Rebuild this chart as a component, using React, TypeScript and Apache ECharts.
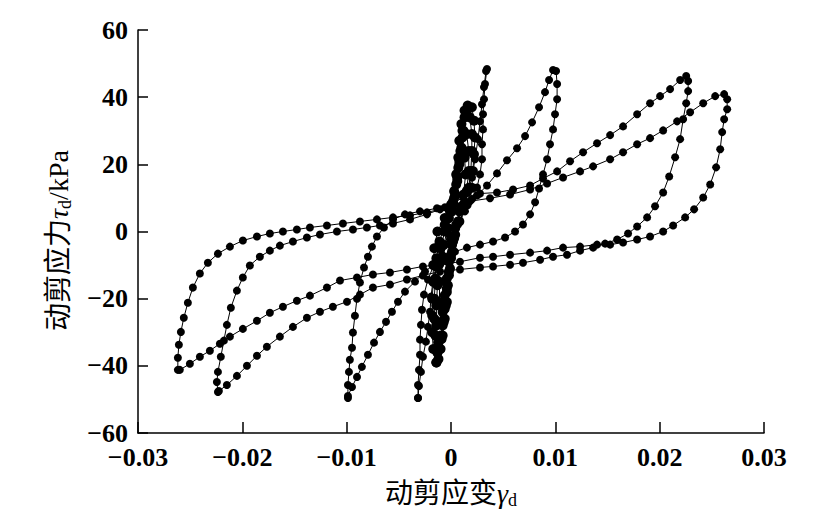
import React, { useEffect, useRef } from "react";
import * as echarts from "echarts";

// Shear strain (γd) vs shear stress (τd, kPa), loop by loop
const loop5: number[][] = [
  [-0.02618, -41.2], [-0.02618, -37.6], [-0.02608, -33.7], [-0.02589, -29.9], [-0.02561, -25.7],
  [-0.02522, -21.2], [-0.02474, -16.7], [-0.02407, -12.5], [-0.0233, -9.3], [-0.02234, -6.6],
  [-0.02119, -4.5], [-0.01995, -2.7], [-0.0186, -1.5], [-0.01736, -0.6], [-0.01611, 0],
  [-0.01477, 0.6], [-0.01352, 1.2], [-0.01189, 1.8], [-0.01036, 2.4], [-0.00873, 3.0],
  [-0.0071, 3.6], [-0.00556, 4.2], [-0.00393, 4.8], [-0.0023, 5.7], [-0.00105, 6.6],
  [0.00038, 8.1], [0.00182, 9.0], [0.00374, 9.9], [0.00566, 11.0], [0.00758, 12.5],
  [0.00921, 14.3], [0.01074, 16.1], [0.01237, 17.9], [0.01362, 19.4], [0.01525, 21.5],
  [0.01649, 23.6], [0.01784, 26.0], [0.01908, 27.8], [0.02033, 30.1], [0.02167, 32.8],
  [0.02292, 35.5], [0.02417, 38.2], [0.02532, 40.3], [0.02618, 40.9],
  [0.02647, 39.4], [0.02647, 36.4], [0.02618, 33.4], [0.02599, 29.6], [0.0258, 24.5],
  [0.02541, 19.1], [0.02484, 14.0], [0.02417, 10.1], [0.0233, 6.6], [0.02244, 4.2],
  [0.02129, 1.8], [0.02033, 0], [0.01908, -1.5], [0.01784, -2.4], [0.01649, -3.3],
  [0.01525, -3.9], [0.014, -3.9], [0.01237, -4.5], [0.01074, -4.8], [0.00921, -5.7],
  [0.00758, -6.3], [0.00566, -6.9], [0.00403, -7.5], [0.00278, -7.8], [0.00086, -9.0],
  [-0.00105, -9.9], [-0.00269, -10.4], [-0.00422, -11.3], [-0.00585, -12.2], [-0.00748, -12.8],
  [-0.00901, -13.7], [-0.01064, -14.6], [-0.01189, -16.7], [-0.01352, -19.1], [-0.01477, -20.6],
  [-0.01611, -22.4], [-0.01736, -24.2], [-0.0186, -26.6], [-0.01995, -29.0], [-0.02119, -31.3],
  [-0.02215, -33.4], [-0.02311, -35.5], [-0.02407, -37.3], [-0.02503, -39.4], [-0.02599, -41.2],
];

const loop4: number[][] = [
  [-0.02234, -47.8], [-0.02244, -44.8], [-0.02234, -41.8], [-0.02206, -37.3], [-0.02177, -32.5],
  [-0.02148, -27.8], [-0.0211, -22.7], [-0.02052, -17.6], [-0.01995, -13.7], [-0.01928, -10.1],
  [-0.01832, -7.5], [-0.01736, -5.7], [-0.0164, -4.2], [-0.01515, -3.0], [-0.01381, -1.8],
  [-0.01256, -0.9], [-0.01093, 0], [-0.0094, 0.6], [-0.00806, 1.2], [-0.00681, 1.8],
  [-0.00556, 2.4], [-0.00393, 3.6], [-0.0023, 5.1], [-0.00058, 7.2], [0.00115, 10.1],
  [0.00278, 11.3], [0.00441, 11.6], [0.00595, 12.5], [0.00758, 13.7], [0.00882, 15.8],
  [0.01017, 17.9], [0.01141, 20.9], [0.01266, 23.6], [0.014, 26.3], [0.01525, 28.7],
  [0.01649, 31.3], [0.01784, 34.9], [0.01908, 38.2], [0.02004, 40.3], [0.021, 42.4],
  [0.02196, 45.1], [0.02254, 46.3],
  [0.02273, 44.8], [0.02273, 41.8], [0.02254, 38.2], [0.02225, 33.4], [0.02196, 27.5],
  [0.02148, 22.1], [0.02091, 16.4], [0.02033, 11.6], [0.01956, 7.5], [0.0188, 4.2],
  [0.01784, 1.5], [0.01697, -0.6], [0.01592, -2.4], [0.01477, -3.6], [0.01362, -4.8],
  [0.01237, -5.7], [0.01112, -6.9], [0.00978, -7.5], [0.00854, -8.4], [0.0069, -9.3],
  [0.00566, -9.9], [0.00403, -10.4], [0.00278, -10.7], [0.00086, -11.3], [-0.00105, -11.9],
  [-0.00269, -13.1], [-0.00422, -14.3], [-0.00585, -15.8], [-0.00748, -16.7], [-0.00873, -18.8],
  [-0.00997, -20.9], [-0.01132, -22.4], [-0.01256, -23.9], [-0.01381, -25.7], [-0.01515, -28.4],
  [-0.0164, -31.3], [-0.01765, -34.3], [-0.0186, -37.0], [-0.01956, -40.0], [-0.02052, -43.0],
  [-0.02148, -45.7], [-0.02225, -47.5],
];

const loop3: number[][] = [
  [-0.00988, -49.6], [-0.00988, -45.7], [-0.00978, -41.8], [-0.00969, -38.2], [-0.00949, -34.6],
  [-0.0094, -30.1], [-0.00921, -25.1], [-0.00901, -20.0], [-0.00873, -15.2], [-0.00834, -10.7],
  [-0.00796, -7.5], [-0.00758, -4.5], [-0.0071, -1.5], [-0.00643, 1.2], [-0.00556, 3.6],
  [-0.00441, 5.1], [-0.00297, 6.0], [-0.00134, 6.9], [0.0001, 7.8], [0.00134, 9.0],
  [0.00249, 10.7], [0.00345, 13.7], [0.00441, 17.3], [0.00537, 21.2], [0.00633, 24.8],
  [0.0071, 28.4], [0.00777, 32.5], [0.00844, 37.0], [0.00901, 41.5], [0.0094, 45.1],
  [0.00978, 48.1],
  [0.01007, 47.8], [0.01017, 43.9], [0.01017, 39.4], [0.00997, 34.9], [0.00978, 30.4],
  [0.00949, 26.0], [0.00921, 21.5], [0.00882, 17.0], [0.00844, 12.8], [0.00806, 8.7],
  [0.00758, 5.1], [0.0069, 2.1], [0.00614, 0], [0.00518, -1.8], [0.00403, -3.0],
  [0.00278, -3.9], [0.00153, -4.8], [0.00038, -6.0], [-0.00058, -7.5], [-0.00153, -9.6],
  [-0.00249, -11.9], [-0.00345, -14.9], [-0.00441, -17.9], [-0.00508, -20.9], [-0.00566, -23.9],
  [-0.00623, -26.9], [-0.00681, -29.9], [-0.00738, -33.1], [-0.00796, -36.7], [-0.00854, -40.3],
  [-0.00901, -43.3], [-0.00949, -46.3], [-0.00988, -49.0],
];

const loop2: number[][] = [
  [-0.00316, -49.6], [-0.00316, -45.7], [-0.00307, -41.2], [-0.00297, -36.7], [-0.00297, -32.2],
  [-0.00288, -27.8], [-0.00278, -23.3], [-0.00259, -18.8], [-0.00221, -14.3], [-0.00163, -9.9],
  [-0.00096, -5.4], [-0.0002, -0.9], [0.00058, 3.0], [0.00115, 7.2], [0.00163, 11.6],
  [0.00201, 16.1], [0.0023, 21.5], [0.00259, 27.5], [0.00278, 32.8], [0.00297, 37.9],
  [0.00316, 43.0], [0.00336, 47.8],
  [0.00345, 48.4], [0.00326, 43.9], [0.00316, 39.4], [0.00307, 34.9], [0.00307, 30.4],
  [0.00297, 26.0], [0.00297, 21.5], [0.00278, 17.0], [0.00249, 13.1], [0.00201, 9.6],
  [0.00134, 6.0], [0.00067, 2.1], [-0.0001, -2.4], [-0.00086, -6.9], [-0.00144, -10.7],
  [-0.00173, -14.9], [-0.00192, -19.4], [-0.00201, -23.9], [-0.00221, -28.4], [-0.0024, -32.8],
  [-0.00269, -37.3], [-0.00288, -41.8], [-0.00307, -46.0], [-0.00316, -49.6],
];

// dense band of small cycles around the origin
const loop1Outer: number[][] = [
  [-0.0014, -39], [-0.0017, -35], [-0.0018, -30], [-0.0018, -25], [-0.0018, -20], [-0.0017, -15],
  [-0.0017, -10], [-0.0016, -5], [-0.0013, 0], [-0.0006, 4], [0.0, 8], [0.0003, 12], [0.0005, 17],
  [0.0007, 22], [0.0008, 27], [0.001, 32], [0.0013, 36], [0.0016, 37.5],
  [0.002, 37], [0.0022, 33], [0.0023, 28], [0.0022, 23], [0.0021, 18], [0.002, 13], [0.0015, 8],
  [0.0008, 3], [0.0004, -1], [0.0001, -6], [-0.0001, -11], [-0.0003, -16], [-0.0004, -21],
  [-0.0006, -26], [-0.0008, -31], [-0.001, -35], [-0.0012, -38], [-0.0014, -39],
];

const loop1Upper: number[][] = [
  [-0.0013, -36], [-0.0015, -31], [-0.0016, -26], [-0.0016, -20], [-0.0015, -14], [-0.0014, -8],
  [-0.0011, -3], [-0.0006, 2], [-0.0001, 6], [0.0003, 10], [0.0006, 15], [0.0008, 20], [0.001, 25],
  [0.0011, 30], [0.0013, 34], [0.0015, 35],
  [0.0018, 34], [0.002, 29], [0.002, 24], [0.0019, 18], [0.0017, 13], [0.0012, 8], [0.0007, 3],
  [0.0003, -2], [0.0, -7], [-0.0002, -12], [-0.0004, -17], [-0.0005, -22], [-0.0007, -27],
  [-0.0009, -32], [-0.0011, -35], [-0.0013, -36],
];

const loop1Middle: number[][] = [
  [-0.0012, -33], [-0.0014, -28], [-0.0014, -22], [-0.0013, -16], [-0.0012, -10], [-0.001, -5],
  [-0.0006, 0], [-0.0002, 4], [0.0002, 9], [0.0005, 14], [0.0007, 19], [0.0009, 24], [0.0011, 28],
  [0.0012, 30],
  [0.0015, 29], [0.0017, 24], [0.0017, 18], [0.0015, 12], [0.001, 7], [0.0005, 2], [0.0002, -3],
  [0.0, -8], [-0.0002, -13], [-0.0004, -18], [-0.0006, -23], [-0.0008, -28], [-0.001, -31],
  [-0.0012, -33],
];

const loop1Inner: number[][] = [
  [-0.001, -27], [-0.0011, -21], [-0.0011, -15], [-0.001, -9], [-0.0007, -4], [-0.0003, 1],
  [0.0001, 6], [0.0004, 11], [0.0006, 16], [0.0008, 21], [0.001, 24],
  [0.0013, 22], [0.0014, 17], [0.0012, 11], [0.0008, 6], [0.0004, 1], [0.0001, -4],
  [-0.0002, -9], [-0.0004, -14], [-0.0006, -19], [-0.0008, -24], [-0.001, -27],
];

const bandLoops = [loop1Inner, loop1Middle, loop1Upper, loop1Outer];
const mainLoops = [loop2, loop3, loop4, loop5];

const xName = "动剪应变{g|γ}{s|d}";
const yName = "动剪应力{g|τ}{s|d}/kPa";

const serif = "'Liberation Serif', 'Times New Roman', 'Noto Sans CJK SC', serif";

export default function App() {
  const ref = useRef<HTMLDivElement>(null);
  useEffect(() => {
    document.body.style.margin = "0";
    const chart = echarts.init(ref.current!, null, { renderer: "svg" });
    const tickLabel = {
      color: "#000",
      fontFamily: serif,
      fontWeight: "bold" as const,
      fontSize: 26,
      lineHeight: 20,
    };
    const nameStyle = (pad: number[]) => ({
      color: "#000",
      fontFamily: serif,
      fontSize: 28,
      padding: pad,
      rich: {
        g: { fontFamily: serif, fontStyle: "italic" as const, fontSize: 28, color: "#000" },
        s: { fontFamily: serif, fontSize: 18, color: "#000", verticalAlign: "bottom" as const, lineHeight: 32 },
      },
    });
    const lineSeries = (d: number[][], size: number) => ({
      type: "line",
      data: d,
      showSymbol: true,
      symbol: "circle",
      symbolSize: size,
      lineStyle: { color: "#000", width: 1 },
      itemStyle: { color: "#000" },
      emphasis: { disabled: true },
    });
    chart.setOption({
      animation: false,
      backgroundColor: "#fff",
      grid: { left: 138, right: 55, top: 30, bottom: 97, containLabel: false },
      xAxis: {
        type: "value",
        min: -0.03,
        max: 0.03,
        interval: 0.01,
        name: xName,
        nameLocation: "middle",
        nameGap: 44,
        nameTextStyle: nameStyle([0, 0, 0, 0]),
        axisLine: { show: true, onZero: false, lineStyle: { color: "#000", width: 1.5 } },
        axisTick: { show: true, inside: true, length: 11, lineStyle: { color: "#000", width: 1.5 } },
        axisLabel: {
          ...tickLabel,
          margin: 14,
          formatter: (v: number) => String(Math.round(v * 100) / 100).replace("-", "\u2212"),
        },
        splitLine: { show: false },
      },
      yAxis: {
        type: "value",
        min: -60,
        max: 60,
        interval: 20,
        name: yName,
        nameLocation: "middle",
        nameGap: 64,
        nameTextStyle: nameStyle([0, 18, 0, 0]),
        axisLine: { show: true, onZero: false, lineStyle: { color: "#000", width: 1.5 } },
        axisTick: { show: true, inside: true, length: 10, lineStyle: { color: "#000", width: 1.5 } },
        axisLabel: {
          ...tickLabel,
          margin: 10,
          formatter: (v: number) => String(Math.round(v)).replace("-", "\u2212"),
        },
        splitLine: { show: false },
      },
      series: [
        ...bandLoops.map((d) => lineSeries(d, 10)),
        ...mainLoops.map((d) => lineSeries(d, 8)),
      ],
    });
    return () => chart.dispose();
  }, []);
  return <div ref={ref} style={{ position: "fixed", left: 0, top: 0, width: 819, height: 530 }} />;
}
